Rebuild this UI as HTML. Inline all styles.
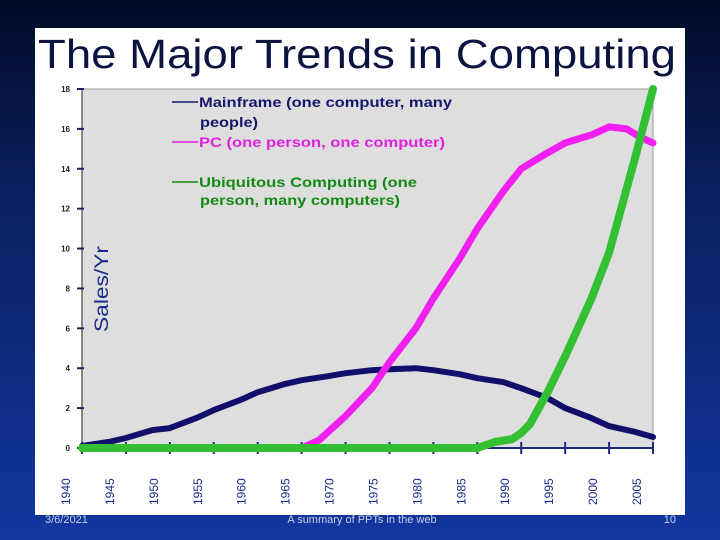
<!DOCTYPE html>
<html><head><meta charset="utf-8"><style>
html,body{margin:0;padding:0;width:720px;height:540px;overflow:hidden}
body{background:linear-gradient(180deg,#000b26 0%,#0a1f5e 35%,#1236a0 100%);font-family:"Liberation Sans",sans-serif}
</style></head><body>
<svg id="chart" width="720" height="540" xmlns="http://www.w3.org/2000/svg" style="position:absolute;left:0;top:0">
<rect x="35" y="28" width="650" height="487" fill="#ffffff"/>
<text x="38" y="68" font-size="41" fill="#0b1440" textLength="638" lengthAdjust="spacingAndGlyphs" font-family="Liberation Sans, sans-serif">The Major Trends in Computing</text>
<rect x="82" y="89" width="571" height="359" fill="#dedede" stroke="#999" stroke-width="1"/>
<g id="axes"></g>
<text transform="translate(108,289) rotate(-90)" text-anchor="middle" font-size="19" fill="#1a2a8a" textLength="86" lengthAdjust="spacingAndGlyphs">Sales/Yr</text>
<g font-size="14" font-weight="bold">
<line x1="172" y1="102" x2="198" y2="102" stroke="#16166a" stroke-width="1.5"/>
<text x="199" y="107" fill="#16166a" textLength="253" lengthAdjust="spacingAndGlyphs">Mainframe (one computer, many</text>
<text x="200" y="127" fill="#16166a" textLength="58" lengthAdjust="spacingAndGlyphs">people)</text>
<line x1="172" y1="142" x2="198" y2="142" stroke="#e020e0" stroke-width="1.5"/>
<text x="199" y="147" fill="#e020e0" textLength="246" lengthAdjust="spacingAndGlyphs">PC (one person, one computer)</text>
<line x1="172" y1="182" x2="198" y2="182" stroke="#138a13" stroke-width="1.5"/>
<text x="199" y="187" fill="#138a13" textLength="218" lengthAdjust="spacingAndGlyphs">Ubiquitous Computing (one</text>
<text x="200" y="205" fill="#138a13" textLength="200" lengthAdjust="spacingAndGlyphs">person, many computers)</text>
</g>
<g id="series"></g>
<text x="45" y="523" font-size="11" fill="#c8d0e8">3/6/2021</text>
<text x="362" y="523" font-size="11" fill="#c8d0e8" text-anchor="middle">A summary of PPTs in the web</text>
<text x="676" y="523" font-size="11" fill="#c8d0e8" text-anchor="end">10</text>
</svg>
<script>
const yearTicks=[1940,1945,1950,1955,1960,1965,1970,1975,1980,1985,1990,1995,2000,2005];
const valueTicks=[0,2,4,6,8,10,12,14,16,18];
const mainYears=[1940,1943,1945,1948,1950,1953,1955,1958,1960,1963,1965,1968,1970,1973,1975,1978,1980,1983,1985,1988,1990,1993,1995,1998,2000,2003,2005];
const mainVals=[0.1,0.3,0.5,0.9,1.0,1.5,1.9,2.4,2.8,3.2,3.4,3.6,3.75,3.9,3.95,4.0,3.9,3.7,3.5,3.3,3.0,2.5,2.0,1.5,1.1,0.8,0.55];
const pcYears=[1965,1967,1970,1973,1975,1978,1980,1983,1985,1988,1990,1993,1995,1998,2000,2002,2003.5,2005];
const pcVals=[0,0.4,1.6,3.0,4.3,6.0,7.5,9.5,11.0,12.9,14.0,14.8,15.3,15.7,16.1,16.0,15.6,15.3];
const ubYears=[1940,1985,1987,1989,1990,1991,1992,1993,1995,1998,2000,2003,2005];
const ubVals=[0,0,0.3,0.45,0.75,1.2,2.0,2.8,4.6,7.5,9.8,14.6,18];
const NS='http://www.w3.org/2000/svg';
const X=y=>82+(y-1940)*(571/65);
const Y=v=>448-v*(359/18);
const axes=document.getElementById('axes'),series=document.getElementById('series');
function mk(tag,attrs,parent){const e=document.createElementNS(NS,tag);for(const k in attrs)e.setAttribute(k,attrs[k]);parent.appendChild(e);return e;}
const ya=mk('line',{x1:82,y1:89,x2:82,y2:448,stroke:'#222',"stroke-width":1},axes);


valueTicks.forEach(v=>{
 const t=mk('line',{x1:77,y1:Y(v),x2:84,y2:Y(v),stroke:'#1a2060',"stroke-width":2},axes);
 
 
 const l=mk('text',{x:70,y:Y(v)+3,"font-size":8,"font-weight":"bold",fill:'#222','text-anchor':'end'},axes);
 l.textContent=v;
 
 
});
const xa=mk('line',{x1:82,y1:448,x2:653,y2:448,stroke:'#1a2a80',"stroke-width":2},axes);


yearTicks.forEach((yr,i)=>{
 const tx=82+i*(571/13);
 const t=mk('line',{x1:tx,y1:442,x2:tx,y2:454,stroke:'#1a2a80',"stroke-width":2},axes);
 
 
 const l=mk('text',{transform:`translate(${tx-12},${505}) rotate(-90)`,"font-size":12,fill:'#1a2a8a'},axes);
 l.textContent=yr;
 
 
});
function path(ys,vs,color,w,name){
 const d=ys.map((y,i)=>(i?'L':'M')+X(y).toFixed(1)+','+Y(vs[i]).toFixed(1)).join(' ');
 const p=mk('path',{d:d,fill:'none',stroke:color,"stroke-width":w,"stroke-linejoin":"round","stroke-linecap":"round"},series);
 
 
}
path(mainYears,mainVals,'#10106a',6,'mainframe-line');
path(pcYears,pcVals,'#f020f0',7,'pc-line');
path(ubYears,ubVals,'#33c033',8,'ubiquitous-line');
</script>
</body></html>
